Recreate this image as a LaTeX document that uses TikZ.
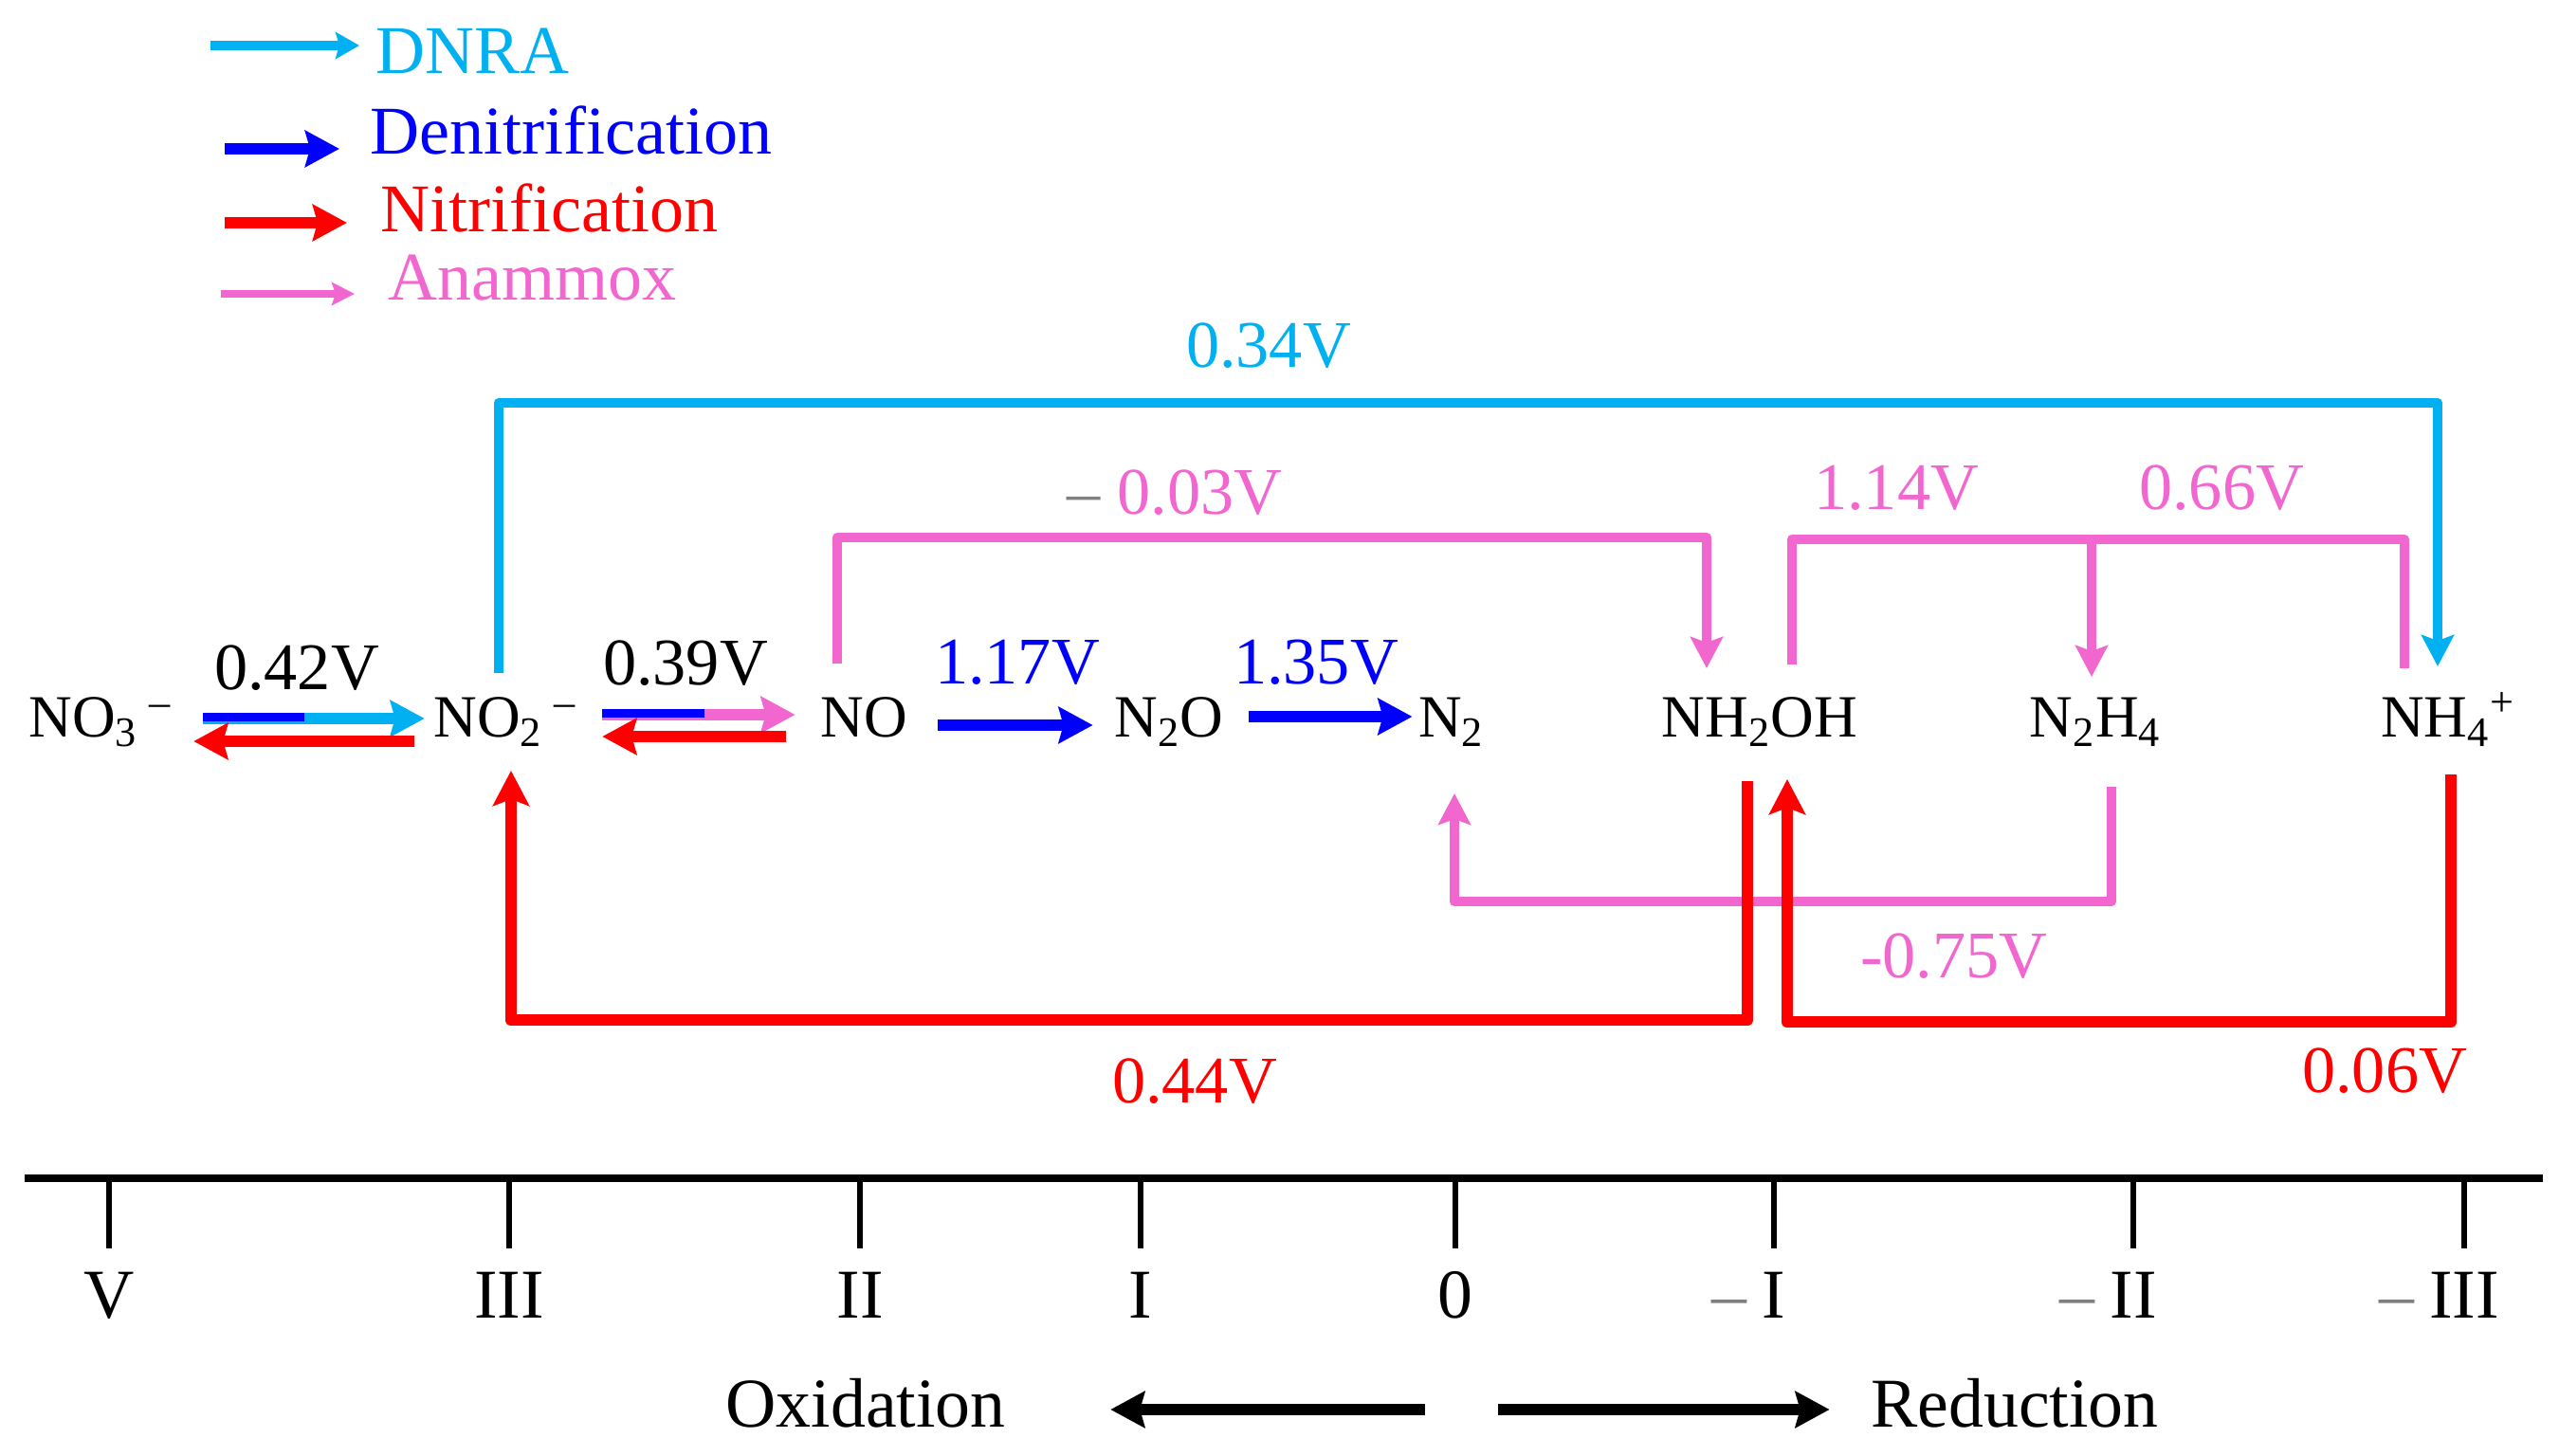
\documentclass[tikz,border=0pt]{standalone}
\usepackage{fontspec}
\setmainfont{Liberation Serif}
\usetikzlibrary{positioning, arrows.meta, calc}

\definecolor{dnracol}{RGB}{0,176,240}
\definecolor{denicol}{RGB}{0,0,255}
\definecolor{nitrcol}{RGB}{255,0,0}
\definecolor{anamcol}{RGB}{242,102,208}
\newcommand{\negox}{\llap{\textcolor{gray}{–}\hspace{0.16cm}}}

\begin{document}
\begin{tikzpicture}[
        species/.style={anchor=base, inner sep=0pt, font=\fontsize{18}{20}\selectfont},
        volt/.style={anchor=base, inner sep=0pt, font=\fontsize{20}{22}\selectfont},
        lgdtext/.style={anchor=base west, inner sep=0pt, font=\fontsize{20.5}{24}\selectfont},
        tlabel/.style={anchor=base, inner sep=0pt, font=\fontsize{21}{24}\selectfont},
        hflow/.style={line width=3.4pt, -{Stealth[length=0.36cm, width=0.38cm, inset=0.05cm]}},
        elbow/.style={line width=3pt, line join=round, -{Stealth[length=0.33cm, width=0.34cm, inset=0.06cm]}},
        redelbow/.style={line width=3.6pt, line join=round, nitrcol, -{Stealth[length=0.37cm, width=0.38cm, inset=0.07cm]}},
        split/.style={line width=2.3pt},
        tick/.style={line width=1.8pt}
    ]
    \useasboundingbox (0,0) rectangle (26.99,15.35);

    % Legend
    \coordinate (ldnra) at (2.22,14.87);
    \node[lgdtext, dnracol] (tdnra) at (3.96,14.57) {DNRA};
    \draw[line width=2.6pt, dnracol, -{Stealth[length=0.25cm, width=0.28cm, inset=0.04cm]}] (ldnra) -- ($(ldnra -| tdnra.west)+(-0.17,0)$);
    \coordinate (ldeni) at (2.37,13.78);
    \node[lgdtext, denicol] (tdeni) at (3.90,13.72) {Denitrification};
    \draw[hflow, denicol, line width=3.6pt] (ldeni) -- ($(ldeni -| tdeni.west)+(-0.32,0)$);
    \coordinate (lnitr) at (2.37,13.00);
    \node[lgdtext, nitrcol] (tnitr) at (4.01,12.90) {Nitrification};
    \draw[hflow, nitrcol, line width=3.6pt] (lnitr) -- ($(lnitr -| tnitr.west)+(-0.35,0)$);
    \coordinate (lanam) at (2.33,12.25);
    \node[lgdtext, anamcol] (tanam) at (4.09,12.18) {Anammox};
    \draw[line width=2.3pt, anamcol, -{Stealth[length=0.24cm, width=0.24cm, inset=0.04cm]}] (lanam) -- ($(lanam -| tanam.west)+(-0.35,0)$);

    % Species
    \node[species] (no3) at (1.06,7.57) {NO\textsubscript{3}\hspace{0.12cm}\textsuperscript{–}};
    \node[species] (no2) at (5.33,7.57) {NO\textsubscript{2}\hspace{0.12cm}\textsuperscript{–}};
    \node[species] (no) at (9.11,7.57) {NO};
    \node[species] (n2o) at (12.33,7.57) {N\textsubscript{2}O};
    \node[species] (n2) at (15.31,7.57) {N\textsubscript{2}};
    \node[species] (nh2oh) at (18.56,7.57) {NH\textsubscript{2}OH};
    \node[species] (n2h4) at (22.10,7.57) {N\textsubscript{2}H\textsubscript{4}};
    \node[species] (nh4) at (25.82,7.57) {NH\textsubscript{4}\textsuperscript{+}};

    % Straight arrows
    \draw[hflow, dnracol] ([xshift=0.32cm, yshift=0.20cm]no3.base east) -- ([xshift=-0.09cm, yshift=0.20cm]no2.base west);
    \draw[split, denicol] ([xshift=0.32cm, yshift=0.215cm]no3.base east) -- ++(1.07,0);
    \draw[hflow, nitrcol] ([xshift=-0.20cm, yshift=-0.04cm]no2.base west) -- ([xshift=0.22cm, yshift=-0.04cm]no3.base east);
    \draw[hflow, anamcol] ([xshift=0.26cm, yshift=0.24cm]no2.base east) -- ([xshift=-0.26cm, yshift=0.24cm]no.base west);
    \draw[split, denicol] ([xshift=0.26cm, yshift=0.255cm]no2.base east) -- ++(1.08,0);
    \draw[hflow, nitrcol] ([xshift=-0.36cm, yshift=0.01cm]no.base west) -- ([xshift=0.26cm, yshift=0.01cm]no2.base east);
    \draw[hflow, denicol] ([xshift=0.32cm, yshift=0.13cm]no.base east) -- ([xshift=-0.22cm, yshift=0.13cm]n2o.base west);
    \draw[hflow, denicol] ([xshift=0.26cm, yshift=0.22cm]n2o.base east) -- ([xshift=-0.06cm, yshift=0.22cm]n2.base west);

    % Elbow arrows
    \draw[elbow, dnracol] ([xshift=-0.07cm, yshift=0.68cm]no2.base) -- ++(0,2.85) -| ([xshift=-0.11cm, yshift=0.75cm]nh4.base);
    \draw[elbow, anamcol] ([xshift=-0.28cm, yshift=0.78cm]no.base) -- ++(0,1.33) -| ([xshift=-0.56cm, yshift=0.73cm]nh2oh.base);
    \draw[elbow, -, anamcol] ([xshift=0.34cm, yshift=0.77cm]nh2oh.base) -- ++(0,1.32) coordinate (anamtop) -| ([xshift=-0.46cm, yshift=0.73cm]nh4.base);
    \draw[elbow, anamcol] ($(n2h4.base |- anamtop)+(-0.04,0)$) -- ([xshift=-0.04cm, yshift=0.64cm]n2h4.base);
    \draw[elbow, anamcol] ([xshift=0.17cm, yshift=-0.52cm]n2h4.base) -- ++(0,-1.21) -| ([xshift=0.03cm, yshift=-0.59cm]n2.base);
    \draw[redelbow] ([xshift=-0.13cm, yshift=-0.46cm]nh2oh.base) -- ++(0,-2.52) -| ([xshift=0.06cm, yshift=-0.35cm]no2.base);
    \draw[redelbow] ([xshift=0.03cm, yshift=-0.39cm]nh4.base) -- ++(0,-2.61) -| ([xshift=0.29cm, yshift=-0.44cm]nh2oh.base);

    % Potentials
    \node[volt] (v042) at (3.13,8.07) {0.42V};
    \node[volt] (v039) at (7.23,8.12) {0.39V};
    \node[volt, denicol] (v117) at (10.73,8.13) {1.17V};
    \node[volt, denicol] (v135) at (13.88,8.13) {1.35V};
    \node[volt, dnracol] (v034) at (13.38,11.47) {0.34V};
    \node[volt, anamcol, anchor=base east] (v003) at (13.53,9.92) {\textcolor{gray}{–}\ 0.03V};
    \node[volt, anamcol] (v114) at (20.00,9.97) {1.14V};
    \node[volt, anamcol] (v066) at (23.43,9.97) {0.66V};
    \node[volt, anamcol] (v075) at (20.61,5.04) {-0.75V};
    \node[volt, nitrcol] (v044) at (12.60,3.72) {0.44V};
    \node[volt, nitrcol] (v006) at (25.15,3.83) {0.06V};

    % Oxidation state axis
    \draw[line width=2.4pt] (0.26,2.92) -- (26.82,2.92);
    \foreach \x/\lab [count=\i] in {1.15/V, 5.37/III, 9.07/II, 12.03/I, 15.35/0, 18.71/\negox I, 22.50/\negox II, 25.99/\negox III} {
        \draw[tick] (\x,2.92) -- (\x,2.18);
        \node[tlabel] (t\i) at (\x,1.45) {\lab};
    }

    \node[tlabel] (oxid) at (9.13,0.30) {Oxidation};
    \node[tlabel] (redu) at (21.25,0.30) {Reduction};
    \coordinate (redox) at (15.41,0.48);
    \draw[hflow] ([xshift=-0.38cm]redox) -- ($(redox -| oxid.east)+(1.10,0)$);
    \draw[hflow] ([xshift=0.39cm]redox) -- ($(redox -| redu.west)+(-0.43,0)$);
\end{tikzpicture}
\end{document}
